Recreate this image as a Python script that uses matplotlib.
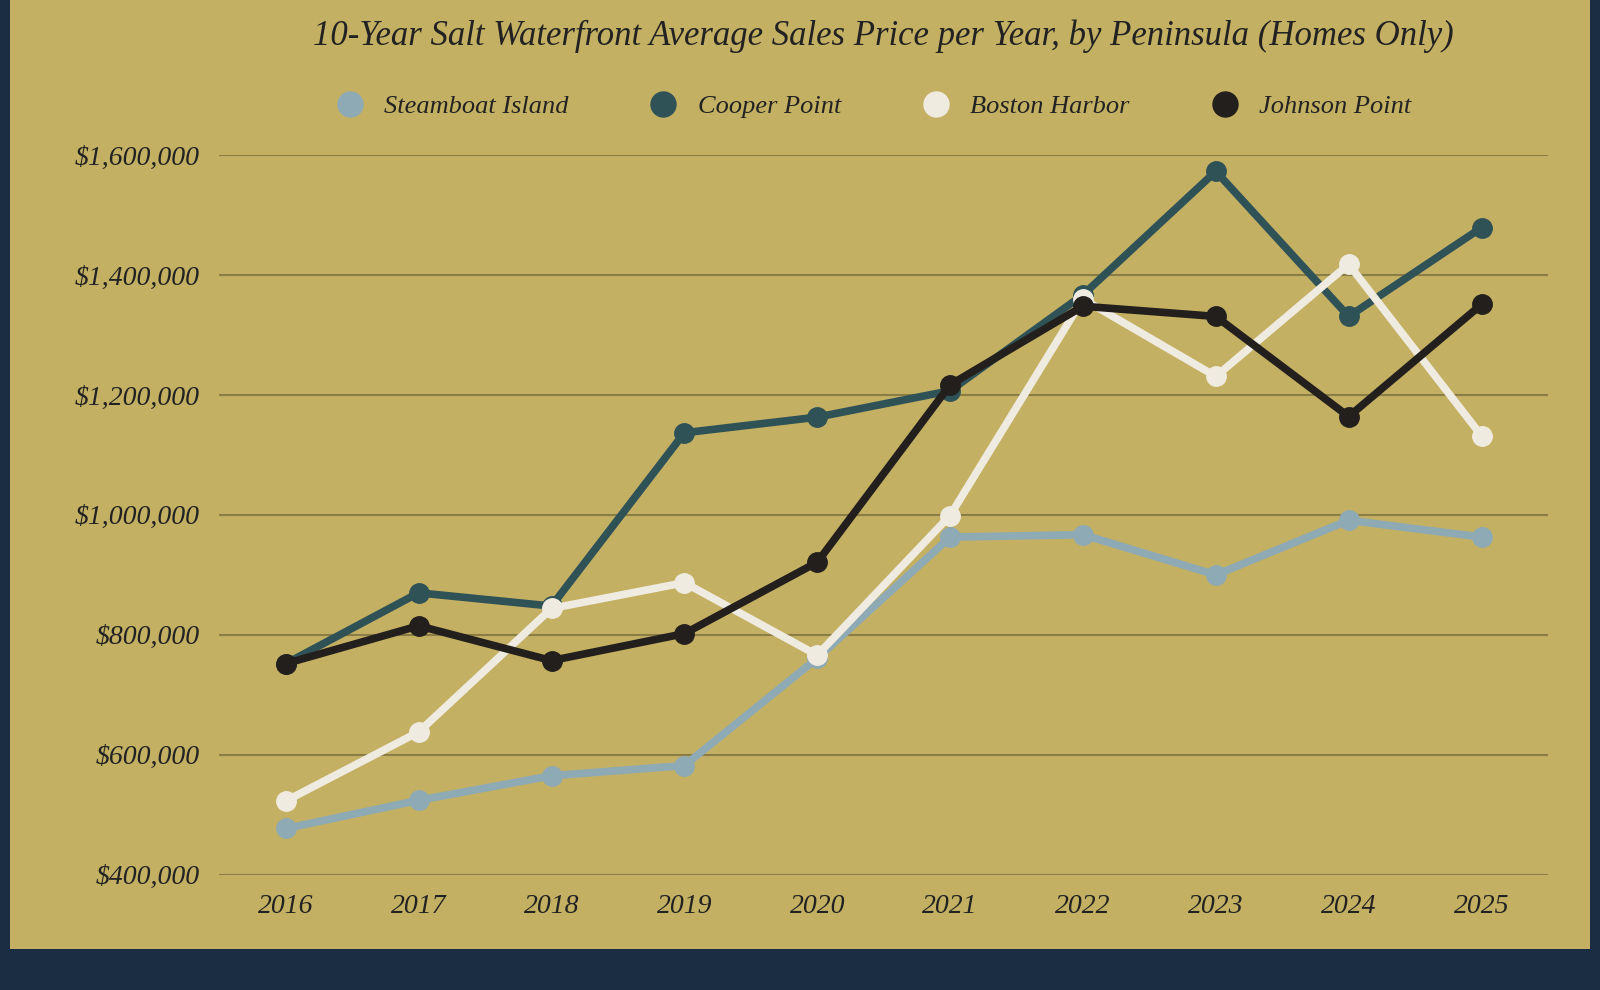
import matplotlib.pyplot as plt
from matplotlib.patches import Rectangle
from matplotlib.ticker import FuncFormatter
from matplotlib.lines import Line2D

years = [2016, 2017, 2018, 2019, 2020, 2021, 2022, 2023, 2024, 2025]
steamboat = [477000, 524000, 565000, 582000, 761000, 963000, 967000, 900000, 991000, 963000]
cooper = [752000, 870000, 848000, 1137000, 1163000, 1207000, 1367000, 1573000, 1331000, 1479000]
boston = [523000, 638000, 844000, 887000, 766000, 999000, 1360000, 1231000, 1418000, 1132000]
johnson = [752000, 815000, 757000, 802000, 921000, 1217000, 1348000, 1331000, 1164000, 1351000]

names = ['Steamboat Island', 'Cooper Point', 'Boston Harbor', 'Johnson Point']
colors = ['#8eaab5', '#2f5257', '#f0ebe0', '#231f1c']
series = [steamboat, cooper, boston, johnson]

plt.rcParams['font.family'] = ['Liberation Serif', 'DejaVu Serif']
plt.rcParams['font.style'] = 'italic'

fig = plt.figure(figsize=(16, 9.9), dpi=100)
fig.patch.set_facecolor('#1b2d42')
fig.patches.append(Rectangle((10 / 1568, 40 / 970), 1 - 20 / 1568, 1 - 40 / 970,
                             transform=fig.transFigure, facecolor='#c4b063',
                             edgecolor='none', zorder=-10))

ax = fig.add_axes([215 / 1568, 1 - 857 / 970, (1517 - 215) / 1568, (857 - 152) / 970])
ax.set_zorder(5)
ax.set_facecolor('none')
for s, c in zip(series, colors):
    ax.plot(years, s, color=c, lw=5.5, marker='o', markersize=14, zorder=3)

ax.set_xlim(2015.5, 2025.5)
ax.set_ylim(400000, 1600000)
ax.set_yticks(range(400000, 1600001, 200000))
ax.set_xticks(years)
ax.yaxis.set_major_formatter(FuncFormatter(lambda v, p: f'${v:,.0f}'))
ax.grid(axis='y', color='#8a7d45', lw=1.5)
ax.set_axisbelow(True)
ax.tick_params(length=0, labelsize=20, colors='#222222', pad=14)
for sp in ax.spines.values():
    sp.set_visible(False)

fig.text(0.552, 1 - 36 / 970,
         '10-Year Salt Waterfront Average Sales Price per Year, by Peninsula (Homes Only)',
         ha='center', va='center', fontsize=25, color='#222222', zorder=6)

handles = [Line2D([], [], ls='', marker='o', markersize=18, color=c) for c in colors]
leg = fig.legend(handles, names, loc='center', bbox_to_anchor=(0.542, 1 - 104 / 970), ncol=4,
                 frameon=False, fontsize=19, handletextpad=0.3, columnspacing=2.6,
                 labelcolor='#222222')
leg.set_zorder(6)

fig.savefig('out.png', dpi=100, facecolor=fig.get_facecolor())
